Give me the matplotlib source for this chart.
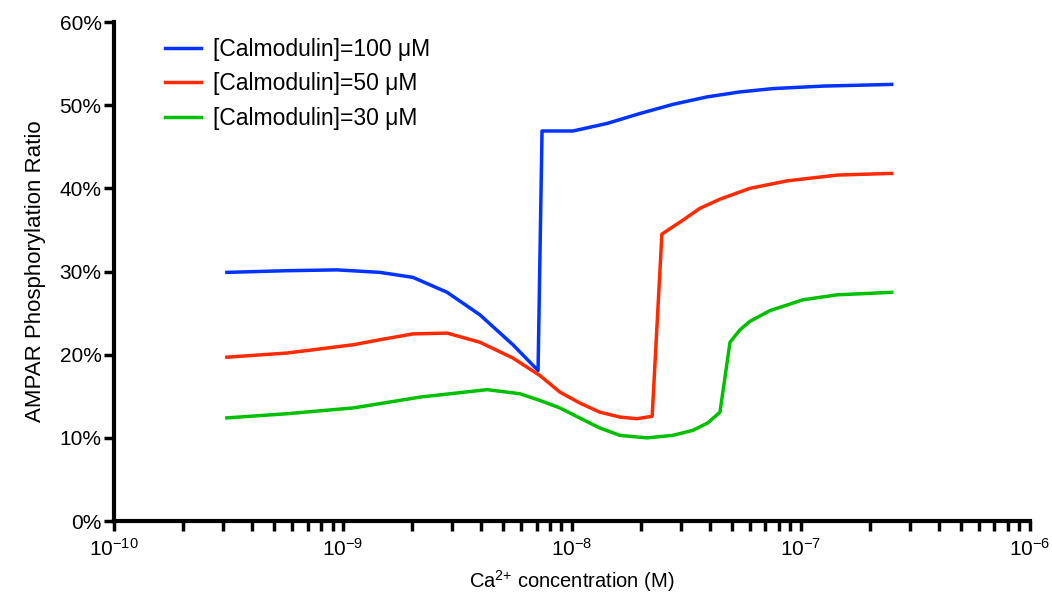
import matplotlib
matplotlib.use('Agg')
import matplotlib.pyplot as plt
from matplotlib.ticker import PercentFormatter, NullFormatter, FixedLocator

plt.rcParams['font.family'] = ['Liberation Sans', 'DejaVu Sans']
plt.rcParams['mathtext.default'] = 'regular'

# Ca2+ concentration (M) and phosphorylation ratio (%)
ca_100 = [3.11e-10, 5.69e-10, 9.41e-10, 1.45e-9, 2.02e-9, 2.85e-9, 3.96e-9, 5.52e-9,
          7.11e-9, 7.40e-9, 1.01e-8, 1.42e-8, 1.98e-8, 2.76e-8, 3.89e-8, 5.42e-8,
          7.55e-8, 1.25e-7, 2.49e-7]
ampar_100 = [29.9, 30.1, 30.2, 29.9, 29.3, 27.5, 24.8, 21.2,
             18.1, 46.9, 46.9, 47.8, 49.0, 50.1, 51.0, 51.6,
             52.0, 52.3, 52.5]

ca_50 = [3.11e-10, 5.69e-10, 1.11e-9, 1.45e-9, 2.02e-9, 2.85e-9, 3.96e-9, 5.52e-9,
         7.24e-9, 8.86e-9, 1.08e-8, 1.32e-8, 1.62e-8, 1.92e-8, 2.24e-8, 2.47e-8,
         3.06e-8, 3.62e-8, 4.43e-8, 5.98e-8, 8.69e-8, 1.44e-7, 2.49e-7]
ampar_50 = [19.7, 20.2, 21.2, 21.8, 22.5, 22.6, 21.5, 19.6,
            17.5, 15.5, 14.2, 13.1, 12.5, 12.3, 12.6, 34.5,
            36.2, 37.6, 38.7, 40.0, 40.9, 41.6, 41.8]

ca_30 = [3.11e-10, 5.69e-10, 1.11e-9, 2.17e-9, 4.26e-9, 5.93e-9, 7.24e-9, 8.86e-9,
         1.08e-8, 1.32e-8, 1.62e-8, 2.13e-8, 2.76e-8, 3.37e-8, 3.92e-8, 4.43e-8,
         4.90e-8, 5.42e-8, 5.98e-8, 7.32e-8, 1.02e-7, 1.44e-7, 2.49e-7]
ampar_30 = [12.4, 12.9, 13.6, 14.9, 15.8, 15.3, 14.5, 13.6,
            12.4, 11.2, 10.3, 10.0, 10.3, 10.9, 11.8, 13.1,
            21.5, 23.0, 24.0, 25.3, 26.6, 27.2, 27.5]

decades = [-10, -9, -8, -7, -6]
major_ticks = [10.0 ** d for d in decades]
major_labels = ['$10^{%d}$' % d for d in decades]
minor_ticks = [m * 10.0 ** d for d in decades[:-1] for m in range(2, 10)]

fig = plt.figure(figsize=(10.52, 5.96), dpi=100)
ax = fig.add_axes([0.1084, 0.1258, 0.8706, 0.8372])

ax.plot(ca_100, ampar_100, color='#0033ff', lw=2.5, label='[Calmodulin]=100 μM')
ax.plot(ca_50, ampar_50, color='#ff2a00', lw=2.5, label='[Calmodulin]=50 μM')
ax.plot(ca_30, ampar_30, color='#00c000', lw=2.5, label='[Calmodulin]=30 μM')

ax.set_xscale('log')
ax.set_xlim(1e-10, 1e-6)
ax.set_ylim(0, 60)
ax.set_yticks(range(0, 61, 10))
ax.yaxis.set_major_formatter(PercentFormatter(decimals=0))
ax.set_xticks(major_ticks, major_labels)
ax.xaxis.set_minor_locator(FixedLocator(minor_ticks))
ax.xaxis.set_minor_formatter(NullFormatter())

for s in ['top', 'right']:
    ax.spines[s].set_visible(False)
for s in ['left', 'bottom']:
    ax.spines[s].set_linewidth(3)

ax.tick_params(axis='both', which='major', length=7, width=2.5, labelsize=15, color='black')
ax.tick_params(axis='x', which='minor', length=7, width=2.5)
ax.tick_params(axis='x', which='major', pad=5)
ax.tick_params(axis='y', which='major', pad=2)

ax.set_xlabel('Ca$^{2{+}}$ concentration (M)', fontsize=14.5, labelpad=6)
ax.set_ylabel('AMPAR Phosphorylation Ratio', fontsize=16, labelpad=10)

ax.legend(loc='upper left', bbox_to_anchor=(165 / 1052, 1 - 38 / 596),
          bbox_transform=fig.transFigure, frameon=False, fontsize=16.5,
          borderpad=0, borderaxespad=0, handlelength=1.55, handletextpad=0.55,
          labelspacing=0.5)

fig.savefig('out.png', dpi=100)
